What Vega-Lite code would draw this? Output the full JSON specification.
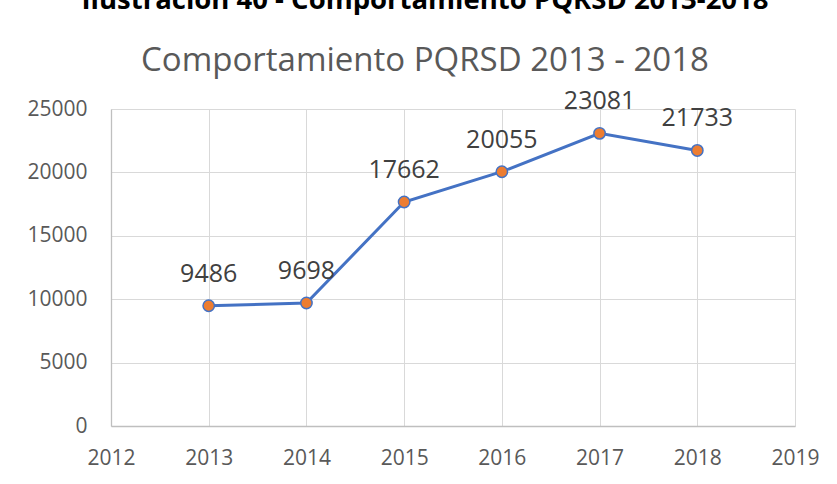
{
  "$schema": "https://vega.github.io/schema/vega-lite/v6.json",
  "autosize": "none",
  "width": 684,
  "height": 317,
  "padding": {"left": 111, "top": 109, "right": 42, "bottom": 58},
  "background": "white",
  "config": {"view": {"stroke": null}, "font": "Open Sans"},
  "title": {
    "text": "Ilustración 40 - Comportamiento PQRSD 2013-2018",
    "subtitle": "Comportamiento PQRSD 2013 - 2018",
    "font": "Open Sans",
    "fontSize": 27.5,
    "fontWeight": "bold",
    "color": "#000000",
    "subtitleFont": "Open Sans",
    "subtitleFontSize": 33,
    "subtitleFontWeight": "normal",
    "subtitleColor": "#595959",
    "subtitlePadding": 31,
    "anchor": "middle",
    "offset": 11,
    "dx": -28
  },
  "data": {
    "values": [
      {"year": 2013, "value": 9486},
      {"year": 2014, "value": 9698},
      {"year": 2015, "value": 17662},
      {"year": 2016, "value": 20055},
      {"year": 2017, "value": 23081},
      {"year": 2018, "value": 21733}
    ]
  },
  "encoding": {
    "x": {
      "field": "year",
      "type": "quantitative",
      "scale": {"domain": [2012, 2019], "nice": false, "zero": false},
      "axis": {
        "title": null,
        "values": [2012, 2013, 2014, 2015, 2016, 2017, 2018, 2019],
        "format": "d",
        "ticks": false,
        "domainColor": "#bfbfbf",
        "domainWidth": 1.3,
        "gridColor": "#d9d9d9",
        "gridWidth": 1,
        "labelFont": "Open Sans",
        "labelFontSize": 21,
        "labelColor": "#595959",
        "labelPadding": 21,
        "labelFlush": false
      }
    },
    "y": {
      "field": "value",
      "type": "quantitative",
      "scale": {"domain": [0, 25000], "nice": false},
      "axis": {
        "title": null,
        "values": [0, 5000, 10000, 15000, 20000, 25000],
        "format": "d",
        "ticks": false,
        "domainColor": "#bfbfbf",
        "domainWidth": 1.3,
        "gridColor": "#d9d9d9",
        "gridWidth": 1,
        "labelFont": "Open Sans",
        "labelFontSize": 21,
        "labelColor": "#595959",
        "labelPadding": 24
      }
    }
  },
  "layer": [
    {"mark": {"type": "line", "color": "#4472C4", "strokeWidth": 3}},
    {"mark": {"type": "point", "filled": true, "fill": "#ED7D31", "stroke": "#4472C4", "strokeWidth": 1.5, "size": 130, "opacity": 1}},
    {
      "mark": {"type": "text", "font": "Open Sans", "fontSize": 25, "color": "#404040", "baseline": "alphabetic", "dy": -24},
      "encoding": {"text": {"field": "value", "type": "quantitative", "format": "d"}}
    }
  ]
}
